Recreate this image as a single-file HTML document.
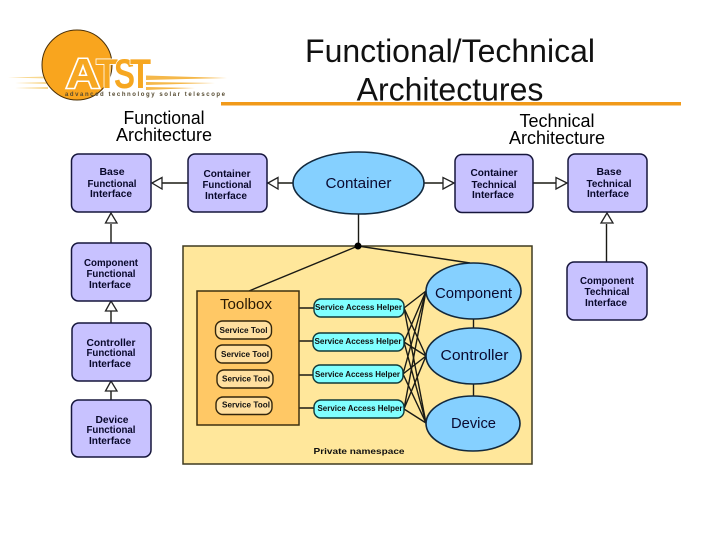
<!DOCTYPE html>
<html><head><meta charset="utf-8"><style>
html,body{margin:0;padding:0;background:#fff;width:720px;height:540px;overflow:hidden}
svg{display:block;filter:blur(.35px)}
text{font-family:"Liberation Sans",sans-serif}
.b{fill:#c8c2ff;stroke:#16163c;stroke-width:1.5}
.e{fill:#85d0ff;stroke:#12283c;stroke-width:1.6}
.h{fill:#80ffff;stroke:#103838;stroke-width:1.4}
.s{fill:#ffdf9f;stroke:#33260c;stroke-width:1.4}
.l{stroke:#1a1a14;stroke-width:1.4;fill:none}
.a{fill:#fff;stroke:#222;stroke-width:1.3}
.t{font-weight:bold;font-size:10.5px;fill:#08082a;text-anchor:middle}
.st{font-weight:bold;font-size:8.5px;fill:#101010;text-anchor:middle}
.big{font-size:15px;fill:#0a0a30;text-anchor:middle}
.h1{font-size:32px;fill:#111;text-anchor:middle}
.h2{font-size:18px;fill:#000;text-anchor:middle}
.lg{font-size:42px;font-weight:bold;fill:#f6a721;stroke:#fff;stroke-width:1.8;paint-order:stroke}
</style></head><body>
<svg width="720" height="540" viewBox="0 0 720 540" xmlns="http://www.w3.org/2000/svg">
<rect width="720" height="540" fill="#fff"/>
<g fill="#f8d890">
<path d="M8 77.500L48 76.500V78.500Z"/><path d="M15 83L48 82V84Z"/><path d="M15 88L48 87V89Z"/>
</g>
<g fill="#f5b84a">
<path d="M146 75.500L227 78L146 80Z"/><path d="M146 82L215 83L146 85Z"/><path d="M146 87L195 88L146 90Z"/>
</g>
<circle cx="77" cy="65" r="35" fill="#f9a51e" stroke="#4a3008" stroke-width="1"/>
<text class="lg" x="66" y="88" textLength="34" lengthAdjust="spacingAndGlyphs" style="stroke-width:3">A</text>
<text class="lg" x="96" y="88" textLength="22" lengthAdjust="spacingAndGlyphs">T</text>
<text class="lg" x="114" y="88" textLength="21" lengthAdjust="spacingAndGlyphs">S</text>
<text class="lg" x="130" y="88" textLength="21" lengthAdjust="spacingAndGlyphs">T</text>
<text x="65" y="96" font-size="6" font-weight="bold" fill="#554a30" textLength="160" lengthAdjust="spacing">advanced technology solar telescope</text>

<text class="h1" x="450" y="62">Functional/Technical</text>
<text class="h1" x="450" y="100.500">Architectures</text>
<rect x="221" y="102" width="460" height="3.500" fill="#f19a1a"/>

<text class="h2" x="164" y="124" textLength="81" lengthAdjust="spacingAndGlyphs">Functional</text>
<text class="h2" x="164" y="141" textLength="96" lengthAdjust="spacingAndGlyphs">Architecture</text>
<text class="h2" x="557" y="127" textLength="75" lengthAdjust="spacingAndGlyphs">Technical</text>
<text class="h2" x="557" y="144" textLength="96" lengthAdjust="spacingAndGlyphs">Architecture</text>

<rect x="183" y="246" width="349" height="218" fill="#ffe79b" stroke="#3f3a20" stroke-width="1.500"/>

<g class="l">
<path d="M358.500 214V246"/>
<path d="M358 246L249 291M358 246L470 263"/>
<path d="M188 183H162M293 183H267"/>
<path d="M424 183H443M533 183H556"/>
<path d="M111 243V224M111 323V310M111 400V390M606.500 262V224"/>
<path d="M473.500 319V328M473.500 384V396"/>
<path d="M299 308H314M299 341H313M299 375H313M299 408H314"/>
<path d="M404 308L426 291M404 308L426 356M404 308L426 423"/>
<path d="M404 342L426 291M404 342L426 356M404 342L426 423"/>
<path d="M403 374L426 291M403 374L426 356M403 374L426 423"/>
<path d="M404 409L426 291M404 409L426 356M404 409L426 423"/>
</g>
<circle cx="358" cy="246" r="3.500" fill="#000"/>

<path class="a" d="M152 183L162 177.500V189Z"/>
<path class="a" d="M268 183L278 177.500V189Z"/>
<path class="a" d="M454 183L443 177.500V189Z"/>
<path class="a" d="M567 183L556 177.500V189Z"/>
<path class="a" d="M111 213L105.500 223H117Z"/>
<path class="a" d="M111 301L105.500 311H117Z"/>
<path class="a" d="M111 381L105.500 391H117Z"/>
<path class="a" d="M607 213L601 223H613Z"/>

<rect class="b" x="71.500" y="154" width="79.500" height="58" rx="7"/>
<rect class="b" x="188" y="154" width="79" height="58" rx="7"/>
<rect class="b" x="455" y="154.500" width="78" height="58" rx="7"/>
<rect class="b" x="568" y="154" width="79" height="58" rx="7"/>
<rect class="b" x="567" y="262" width="80" height="58" rx="7"/>
<rect class="b" x="71.500" y="243" width="79.500" height="58" rx="7"/>
<rect class="b" x="72" y="323" width="79" height="58" rx="7"/>
<rect class="b" x="71.500" y="400" width="79.500" height="57" rx="7"/>

<ellipse class="e" cx="358.500" cy="183" rx="65.500" ry="31"/>
<ellipse class="e" cx="473.500" cy="291" rx="47.500" ry="28"/>
<ellipse class="e" cx="473.500" cy="356" rx="47.500" ry="28"/>
<ellipse class="e" cx="473" cy="423.500" rx="47" ry="27.500"/>

<rect x="197" y="291" width="102" height="134" fill="#ffc865" stroke="#3f3010" stroke-width="1.500"/>
<rect class="s" x="215.500" y="321" width="56" height="18" rx="7"/>
<rect class="s" x="215.500" y="345" width="56" height="18" rx="7"/>
<rect class="s" x="217" y="370" width="56" height="18" rx="7"/>
<rect class="s" x="216" y="397" width="56" height="17.500" rx="7"/>

<rect class="h" x="314" y="299" width="90" height="18" rx="7"/>
<rect class="h" x="313" y="333" width="91" height="18" rx="7"/>
<rect class="h" x="313" y="365" width="90" height="18" rx="7"/>
<rect class="h" x="314" y="400" width="90" height="18" rx="7"/>

<text class="t" x="112" y="175">Base</text><text class="t" x="112" y="187" textLength="49" lengthAdjust="spacingAndGlyphs">Functional</text><text class="t" x="111" y="197" textLength="42" lengthAdjust="spacingAndGlyphs">Interface</text>
<text class="t" x="227" y="177" textLength="47" lengthAdjust="spacingAndGlyphs">Container</text><text class="t" x="227" y="188" textLength="49" lengthAdjust="spacingAndGlyphs">Functional</text><text class="t" x="226" y="199" textLength="42" lengthAdjust="spacingAndGlyphs">Interface</text>
<text class="t" x="494" y="176" textLength="47" lengthAdjust="spacingAndGlyphs">Container</text><text class="t" x="494" y="188" textLength="45" lengthAdjust="spacingAndGlyphs">Technical</text><text class="t" x="493" y="198" textLength="42" lengthAdjust="spacingAndGlyphs">Interface</text>
<text class="t" x="609" y="175">Base</text><text class="t" x="609" y="187" textLength="45" lengthAdjust="spacingAndGlyphs">Technical</text><text class="t" x="608" y="197" textLength="42" lengthAdjust="spacingAndGlyphs">Interface</text>
<text class="t" x="607" y="284" textLength="54" lengthAdjust="spacingAndGlyphs">Component</text><text class="t" x="607" y="295" textLength="45" lengthAdjust="spacingAndGlyphs">Technical</text><text class="t" x="606" y="306" textLength="42" lengthAdjust="spacingAndGlyphs">Interface</text>
<text class="t" x="111" y="266" textLength="54" lengthAdjust="spacingAndGlyphs">Component</text><text class="t" x="111" y="277" textLength="49" lengthAdjust="spacingAndGlyphs">Functional</text><text class="t" x="110" y="288" textLength="42" lengthAdjust="spacingAndGlyphs">Interface</text>
<text class="t" x="111" y="346" textLength="49" lengthAdjust="spacingAndGlyphs">Controller</text><text class="t" x="111" y="356" textLength="49" lengthAdjust="spacingAndGlyphs">Functional</text><text class="t" x="110" y="367" textLength="42" lengthAdjust="spacingAndGlyphs">Interface</text>
<text class="t" x="112" y="423" textLength="33" lengthAdjust="spacingAndGlyphs">Device</text><text class="t" x="111" y="433" textLength="49" lengthAdjust="spacingAndGlyphs">Functional</text><text class="t" x="110" y="444" textLength="42" lengthAdjust="spacingAndGlyphs">Interface</text>

<text class="big" x="358.500" y="188" textLength="66" lengthAdjust="spacingAndGlyphs">Container</text>
<text class="big" x="473.500" y="298" textLength="77" lengthAdjust="spacingAndGlyphs">Component</text>
<text class="big" x="474.500" y="360" textLength="68" lengthAdjust="spacingAndGlyphs">Controller</text>
<text class="big" x="473.500" y="428" textLength="45" lengthAdjust="spacingAndGlyphs">Device</text>
<text x="246" y="309" font-size="14.500" fill="#2a1a05" text-anchor="middle" textLength="52" lengthAdjust="spacingAndGlyphs">Toolbox</text>

<text class="st" x="243.500" y="333" textLength="48" lengthAdjust="spacingAndGlyphs">Service Tool</text>
<text class="st" x="245" y="357" textLength="48" lengthAdjust="spacingAndGlyphs">Service Tool</text>
<text class="st" x="246" y="381.500" textLength="48" lengthAdjust="spacingAndGlyphs">Service Tool</text>
<text class="st" x="246" y="407.500" textLength="48" lengthAdjust="spacingAndGlyphs">Service Tool</text>

<text class="st" x="358.500" y="310" textLength="87" lengthAdjust="spacingAndGlyphs">Service Access Helper</text>
<text class="st" x="358" y="344" textLength="87" lengthAdjust="spacingAndGlyphs">Service Access Helper</text>
<text class="st" x="357.500" y="377" textLength="85" lengthAdjust="spacingAndGlyphs">Service Access Helper</text>
<text class="st" x="360" y="411" textLength="85" lengthAdjust="spacingAndGlyphs">Service Access Helper</text>
<text class="st" x="359" y="454" textLength="91" lengthAdjust="spacingAndGlyphs">Private namespace</text>
</svg>
</body></html>
